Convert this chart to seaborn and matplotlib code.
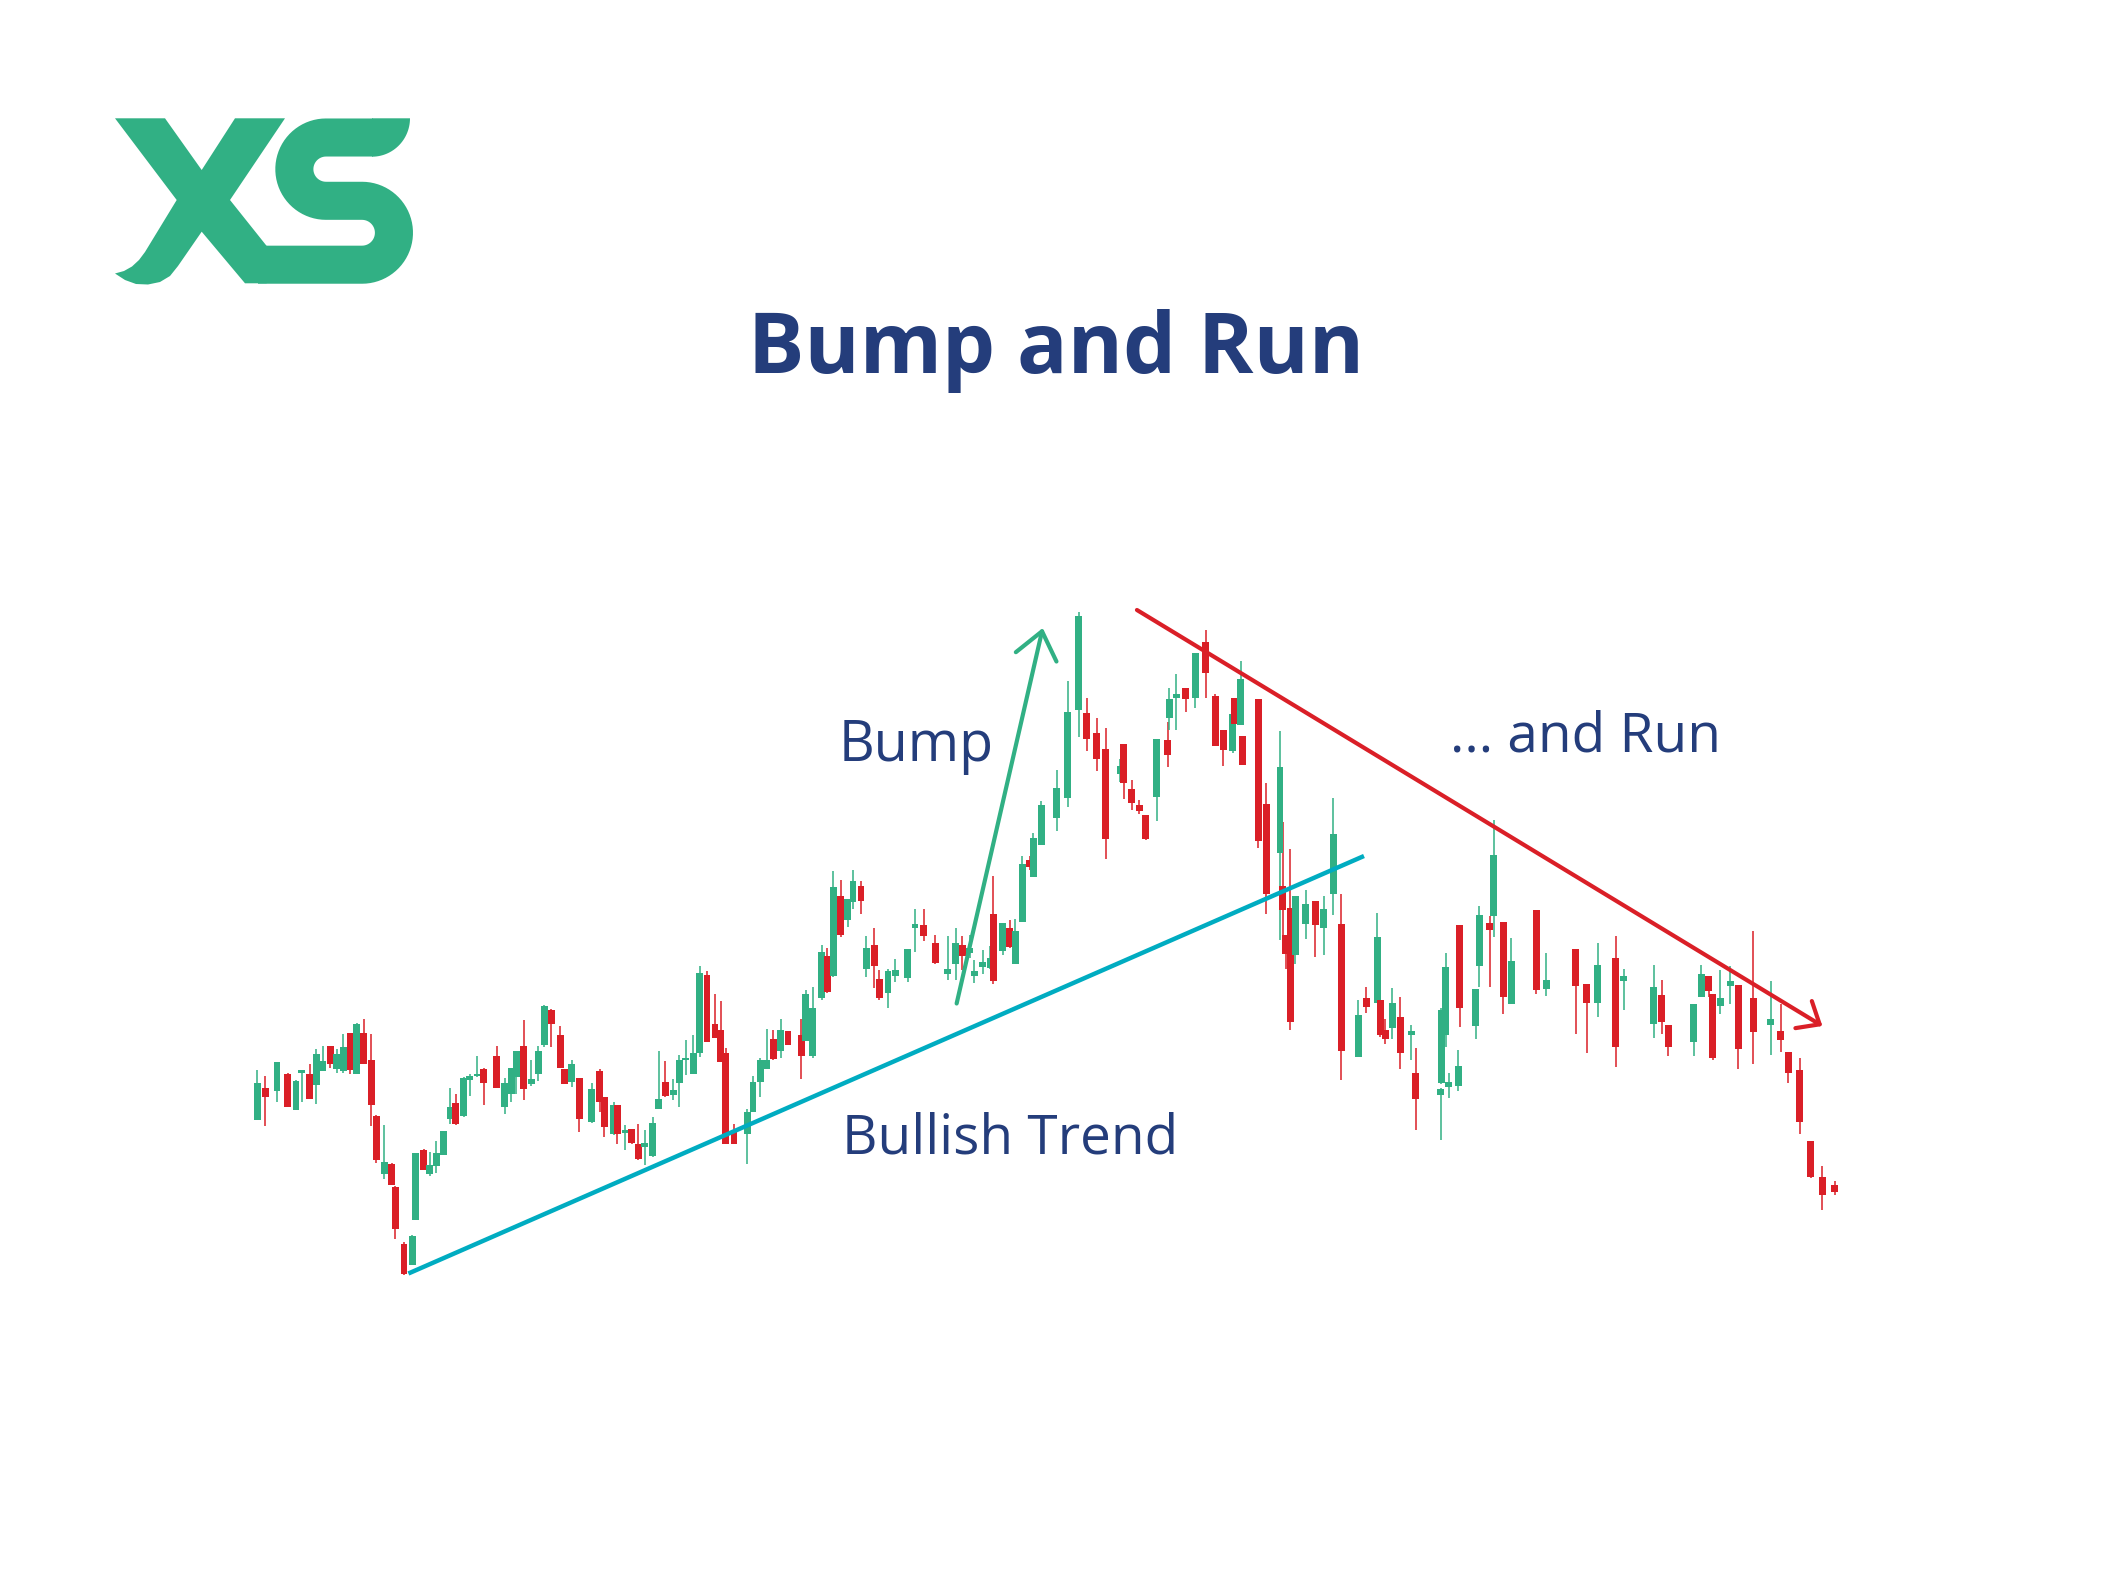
import numpy as np
import pandas as pd
import matplotlib
matplotlib.use("Agg")
import matplotlib.pyplot as plt
import seaborn as sns
from matplotlib.patches import Polygon

sns.set_theme(style="white")
plt.rcParams['font.family'] = ['Open Sans', 'DejaVu Sans']

GREEN = '#31B084'
RED = '#DA1F27'
NAVY = '#243D7B'
TEAL = '#00ACC1'

## Candle data (session number, OHLC)
session = [0.0, 1.1, 2.7, 4.2, 5.3, 6.1, 7.2, 8.1, 9.0, 10.0,
           10.9, 11.8, 12.7, 13.6, 14.6, 15.6, 16.3, 17.4, 18.4, 18.9,
           20.1, 21.2, 21.7, 22.8, 23.6, 24.5, 25.5, 26.4, 27.2, 28.3,
           29.1, 30.1, 31.0, 32.8, 33.9, 34.8, 35.5, 36.5, 37.5, 38.5,
           39.3, 40.3, 41.5, 42.1, 43.1, 44.1, 45.8, 46.9, 47.5, 48.8,
           49.3, 50.4, 51.3, 52.2, 53.1, 54.2, 55.0, 55.9, 57.0, 57.8,
           58.7, 59.7, 60.6, 61.6, 62.7, 63.5, 64.2, 65.3, 67.1, 67.9,
           68.9, 69.8, 70.7, 71.7, 72.7, 74.5, 75.1, 76.1, 77.3, 78.1,
           78.9, 79.9, 80.9, 81.6, 82.7, 83.4, 84.5, 85.2, 86.4, 87.4,
           89.1, 90.1, 91.3, 92.9, 94.6, 95.7, 96.6, 97.6, 98.2, 99.4,
           100.4, 100.8, 102.1, 103.1, 103.8, 104.8, 105.8, 106.3, 107.4, 109.5,
           111.0, 112.5, 113.6, 115.0, 116.2, 118.2, 118.7, 119.8, 120.8, 121.7,
           123.2, 124.7, 124.9, 125.9, 127.2, 128.5, 129.9, 131.2, 132.3, 133.6,
           133.9, 134.7, 134.9, 137.1, 138.2, 140.1, 140.5, 140.9, 141.5, 142.2,
           143.6, 144.9, 146.1, 147.4, 148.5, 150.8, 151.9, 153.4, 153.8, 154.5,
           155.5, 156.6, 158.1, 158.7, 162.1, 162.2, 162.8, 163.2, 164.5, 164.7,
           166.9, 167.4, 168.8, 169.4, 170.7, 171.8, 175.2, 176.6, 180.6, 182.1,
           183.6, 186.1, 187.2, 191.3, 192.4, 193.3, 196.8, 197.8, 198.8, 199.4,
           200.4, 201.8, 202.9, 204.9, 207.3, 208.7, 209.7, 211.3, 212.8, 214.4,
           216.1]

open_ = [36.1, 42.5, 41.8, 45.2, 38.1, 45.5, 45.3, 43.1, 45.9, 50.9,
         46.2, 45.9, 53.5, 45.3, 53.5, 48.1, 36.8, 25.2, 27.3, 22.7,
         11.3, 7.0, 16.0, 30.1, 25.3, 26.9, 29.1, 36.3, 39.5, 36.8,
         44.0, 44.8, 46.3, 48.9, 38.7, 41.2, 44.7, 50.8, 43.3, 45.2,
         51.0, 58.1, 53.0, 46.3, 43.7, 44.5, 35.7, 45.9, 40.7, 33.3,
         39.0, 33.5, 34.3, 31.3, 30.7, 28.9, 38.2, 43.7, 41.0, 43.5,
         48.0, 45.3, 49.5, 65.1, 55.3, 54.0, 49.5, 33.7, 33.2, 37.7,
         43.7, 46.2, 52.3, 49.9, 53.9, 53.0, 51.9, 48.9, 60.5, 68.8,
         64.8, 80.8, 76.0, 79.7, 82.8, 66.3, 71.0, 64.3, 61.5, 64.9,
         64.5, 74.5, 75.0, 71.5, 65.3, 67.2, 71.0, 69.5, 64.8, 66.7,
         66.5, 77.2, 69.9, 74.5, 67.2, 75.7, 88.0, 84.7, 91.0, 96.5,
         100.5, 118.0, 117.5, 113.5, 110.3, 105.2, 111.2, 102.3, 99.1, 97.0,
         100.7, 112.0, 116.5, 120.5, 122.5, 120.5, 131.7, 120.8, 114.1, 109.9,
         120.5, 115.0, 112.8, 120.2, 99.3, 89.5, 82.9, 73.0, 78.5, 69.0,
         75.3, 79.8, 74.5, 81.3, 75.3, 48.7, 60.5, 59.5, 60.1, 54.1,
         54.5, 56.7, 53.0, 45.5, 41.0, 43.5, 53.0, 42.7, 42.9, 75.1,
         54.9, 66.8, 75.5, 76.9, 75.7, 59.3, 78.0, 62.3, 70.3, 63.2,
         59.5, 68.5, 63.8, 55.2, 61.0, 55.1, 51.7, 60.7, 64.9, 61.3,
         58.8, 62.9, 63.1, 60.5, 55.0, 53.9, 49.7, 46.0, 31.9, 24.7,
         23.0]

high = [46.1, 44.8, 47.6, 45.5, 44.0, 46.1, 47.3, 50.2, 50.8, 50.9,
        50.3, 53.3, 53.5, 55.5, 56.3, 53.3, 37.0, 35.1, 27.5, 22.8,
        11.7, 13.0, 29.5, 30.3, 29.7, 31.8, 33.8, 42.5, 41.3, 44.7,
        45.3, 48.8, 46.5, 50.9, 44.5, 46.5, 49.9, 56.1, 48.1, 50.9,
        59.0, 58.3, 54.9, 46.3, 48.0, 44.5, 43.5, 46.3, 40.7, 39.7,
        39.0, 35.1, 34.3, 35.3, 34.0, 36.7, 49.8, 47.8, 44.3, 49.1,
        52.0, 53.1, 66.8, 65.9, 61.3, 59.9, 50.5, 35.2, 38.3, 44.8,
        48.5, 54.3, 54.0, 56.3, 53.9, 56.3, 62.0, 62.7, 71.0, 70.5,
        85.8, 84.0, 80.3, 86.1, 83.9, 72.8, 74.5, 66.0, 66.3, 68.3,
        70.3, 78.3, 78.3, 73.0, 72.8, 74.5, 72.8, 73.0, 68.0, 70.0,
        70.8, 84.8, 75.5, 76.1, 76.3, 88.8, 88.8, 93.5, 99.9, 106.1,
        123.8, 137.7, 120.5, 116.5, 114.5, 108.3, 111.2, 104.0, 100.0, 97.0,
        112.3, 115.7, 122.5, 125.3, 122.5, 129.5, 134.1, 121.3, 114.1, 120.0,
        120.5, 127.8, 112.8, 120.2, 103.5, 113.8, 95.7, 73.0, 90.3, 80.8,
        82.1, 79.8, 80.8, 100.5, 81.3, 60.1, 62.7, 77.5, 60.1, 56.3,
        62.5, 60.7, 55.0, 50.5, 42.5, 58.5, 69.5, 45.5, 50.0, 75.1,
        62.3, 78.9, 76.8, 96.1, 75.7, 72.5, 78.0, 69.5, 70.3, 63.2,
        71.5, 72.8, 66.3, 67.1, 64.0, 55.1, 59.3, 67.0, 64.9, 61.3,
        66.0, 66.8, 63.1, 73.9, 63.9, 59.3, 49.7, 48.5, 31.9, 26.8,
        23.8]

low = [36.1, 34.8, 39.7, 38.7, 38.1, 39.7, 40.3, 39.2, 45.9, 46.5,
       45.5, 45.5, 45.3, 45.3, 47.2, 34.8, 27.5, 24.3, 23.0, 12.3,
       5.0, 7.0, 16.0, 26.0, 24.8, 25.5, 29.1, 35.3, 35.1, 36.7,
       40.8, 44.7, 39.0, 42.5, 37.3, 39.7, 41.2, 40.0, 42.9, 43.9,
       50.7, 50.7, 46.5, 43.3, 42.7, 33.7, 35.5, 37.7, 32.7, 33.0,
       31.2, 30.0, 31.3, 28.1, 27.0, 28.7, 38.2, 40.7, 40.0, 38.7,
       45.0, 45.3, 48.7, 51.7, 52.5, 47.7, 31.2, 31.2, 27.2, 37.7,
       40.7, 46.2, 48.1, 48.5, 51.0, 44.3, 51.9, 48.5, 60.0, 61.5,
       64.7, 72.7, 74.7, 78.3, 77.3, 64.7, 62.5, 60.1, 58.5, 63.7,
       63.7, 69.7, 71.9, 67.3, 64.1, 64.1, 66.1, 68.5, 63.5, 65.3,
       66.3, 63.2, 69.0, 70.5, 67.2, 75.7, 86.0, 84.7, 91.0, 93.9,
       98.7, 112.7, 109.9, 105.9, 88.3, 103.7, 100.3, 98.1, 97.2, 92.1,
       95.9, 106.7, 114.0, 114.1, 117.7, 118.5, 120.5, 110.9, 106.8, 109.5,
       115.0, 115.0, 107.0, 90.5, 77.3, 72.0, 72.0, 66.3, 54.1, 67.3,
       72.3, 68.7, 69.0, 77.0, 44.1, 48.7, 57.5, 59.5, 52.7, 51.2,
       52.3, 46.3, 48.1, 34.0, 32.0, 43.3, 50.7, 40.5, 41.9, 54.7,
       52.2, 62.7, 62.7, 72.7, 57.3, 59.3, 61.3, 60.8, 53.3, 49.5,
       56.7, 46.7, 58.1, 52.5, 53.3, 48.9, 48.9, 60.7, 60.7, 48.0,
       57.3, 59.2, 46.3, 47.3, 49.0, 49.7, 43.5, 33.3, 24.5, 18.0,
       21.0]

close = [43.5, 40.7, 47.6, 38.7, 43.8, 46.0, 40.3, 49.2, 47.9, 47.2,
         49.3, 50.7, 46.1, 55.3, 47.2, 39.0, 28.0, 27.7, 23.0, 14.3,
         5.3, 12.8, 29.5, 26.0, 27.0, 29.5, 33.8, 38.7, 35.3, 44.5,
         44.8, 45.3, 43.5, 42.5, 43.5, 46.5, 49.9, 42.2, 44.3, 49.9,
         58.8, 55.2, 46.5, 43.3, 47.3, 36.2, 42.3, 39.7, 34.7, 39.0,
         33.2, 34.0, 31.5, 28.3, 31.5, 35.5, 40.2, 40.8, 42.1, 48.1,
         48.5, 49.5, 65.5, 51.7, 52.5, 47.7, 31.3, 31.3, 37.7, 43.7,
         48.0, 48.0, 48.3, 54.0, 51.0, 48.8, 61.3, 58.5, 69.7, 61.7,
         82.7, 73.0, 80.3, 83.9, 79.9, 70.5, 66.9, 60.5, 65.8, 66.0,
         70.3, 75.3, 72.9, 67.5, 66.3, 71.5, 68.9, 70.5, 65.8, 67.7,
         68.5, 63.9, 75.5, 70.7, 73.9, 87.3, 86.7, 92.5, 99.0, 102.5,
         117.7, 136.9, 112.2, 108.2, 92.3, 106.9, 103.5, 99.5, 97.8, 92.3,
         112.3, 109.1, 120.3, 121.2, 120.3, 129.5, 125.5, 110.9, 110.0, 117.2,
         115.2, 124.3, 107.0, 91.9, 81.3, 106.7, 78.0, 69.2, 55.7, 80.8,
         79.3, 75.0, 78.3, 93.3, 49.8, 57.0, 58.7, 72.7, 53.0, 52.3,
         59.5, 49.5, 53.9, 40.3, 42.2, 58.0, 66.7, 43.7, 46.9, 58.5,
         62.3, 77.0, 74.1, 89.0, 60.7, 67.8, 62.0, 64.0, 62.9, 59.5,
         67.0, 50.7, 64.9, 62.7, 55.7, 50.7, 59.3, 65.3, 61.8, 48.5,
         60.5, 63.8, 50.3, 53.7, 56.3, 52.0, 45.5, 35.7, 24.7, 21.0,
         21.7]

df = pd.DataFrame({'session': session, 'open': open_, 'high': high,
                   'low': low, 'close': close})
df['color'] = np.where(df['close'] >= df['open'], GREEN, RED)
df['body_low'] = df[['open', 'close']].min(axis=1)
df['body_h'] = (df['close'] - df['open']).abs().clip(lower=0.5)

## Figure
W, H = 2112, 1573
fig = plt.figure(figsize=(W / 100, H / 100), dpi=100)
fig.patch.set_facecolor('white')

# price axes: x_px = 257.3 + 7.3 * session, y_px = 1300 - 5 * price
ax = fig.add_axes([0, 0, 1, 1])
ax.set_xlim(-257.3 / 7.3, (W - 257.3) / 7.3)
ax.set_ylim((1300 - H) / 5, 1300 / 5)
ax.axis('off')

ax.vlines(df['session'], df['low'], df['high'], colors=df['color'],
          linewidth=1.1, zorder=1)
ax.bar(df['session'], df['body_h'], bottom=df['body_low'], width=0.95,
       color=df['color'], linewidth=0, zorder=2)

# trend lines
ax.plot([20.7, 151.6], [5.3, 88.8], color=TEAL, lw=3.2,
        solid_capstyle='butt', zorder=4)
ax.annotate('', xy=(107.6, 134.4), xytext=(95.8, 59.3),
            arrowprops=dict(arrowstyle='->,head_length=0.63,head_width=0.5',
                            color=GREEN, lw=3, mutation_scale=30,
                            shrinkA=0, shrinkB=0), zorder=4)
ax.annotate('', xy=(214.4, 54.8), xytext=(120.5, 138.0),
            arrowprops=dict(arrowstyle='->,head_length=0.45,head_width=0.38',
                            color=RED, lw=3, mutation_scale=30,
                            shrinkA=0, shrinkB=0), zorder=4)

## Overlay in pixel coordinates: logo and texts
ov = fig.add_axes([0, 0, 1, 1], facecolor='none')
ov.set_xlim(0, W)
ov.set_ylim(H, 0)
ov.axis('off')

# XS logo
x_pts = [(115, 118.3), (165, 118.3), (201.7, 170), (235, 118.3), (285, 118.3),
         (230, 200), (266.7, 246), (266.7, 283.3), (245, 283.3), (201.7, 231.7),
         (178, 266), (170, 276), (160, 282), (148, 284.5), (136, 284), (125, 280),
         (115, 273.5), (124, 271), (132, 266.5), (139, 260), (145, 252),
         (176.7, 200)]
ov.add_patch(Polygon(x_pts, closed=True, facecolor=GREEN, edgecolor='none'))

a1 = np.radians(np.linspace(270, 90, 40))
a2 = np.radians(np.linspace(-90, 90, 40))
top_arc = np.column_stack([326 + 31.65 * np.cos(a1), 169.15 + 31.65 * np.sin(a1)])
right_arc = np.column_stack([362 + 31.95 * np.cos(a2), 232.75 + 31.95 * np.sin(a2)])
s_line = np.vstack([[[373, 137.5]], top_arc, right_arc, [[258, 264.7]]])
ov.plot(s_line[:, 0], s_line[:, 1], color=GREEN, lw=27.4,
        solid_capstyle='butt', solid_joinstyle='round')
a3 = np.radians(np.linspace(0, 90, 30))
cap = np.vstack([[[372, 118.3]],
                 np.column_stack([372 + 38 * np.cos(a3), 118.3 + 38.4 * np.sin(a3)])])
ov.add_patch(Polygon(cap, closed=True, facecolor=GREEN, edgecolor='none'))

# texts
ov.text(1056, 373, 'Bump and Run', ha='center', va='baseline', fontsize=60.5,
        fontweight='bold', color=NAVY)
ov.text(839, 761, 'Bump', ha='left', va='baseline', fontsize=40, color=NAVY)
ov.text(1450, 752, '... and Run', ha='left', va='baseline', fontsize=39.5, color=NAVY)
ov.text(842, 1154, 'Bullish Trend', ha='left', va='baseline', fontsize=39.5, color=NAVY)

plt.savefig('out.png', dpi=100, facecolor='white')
plt.close()
